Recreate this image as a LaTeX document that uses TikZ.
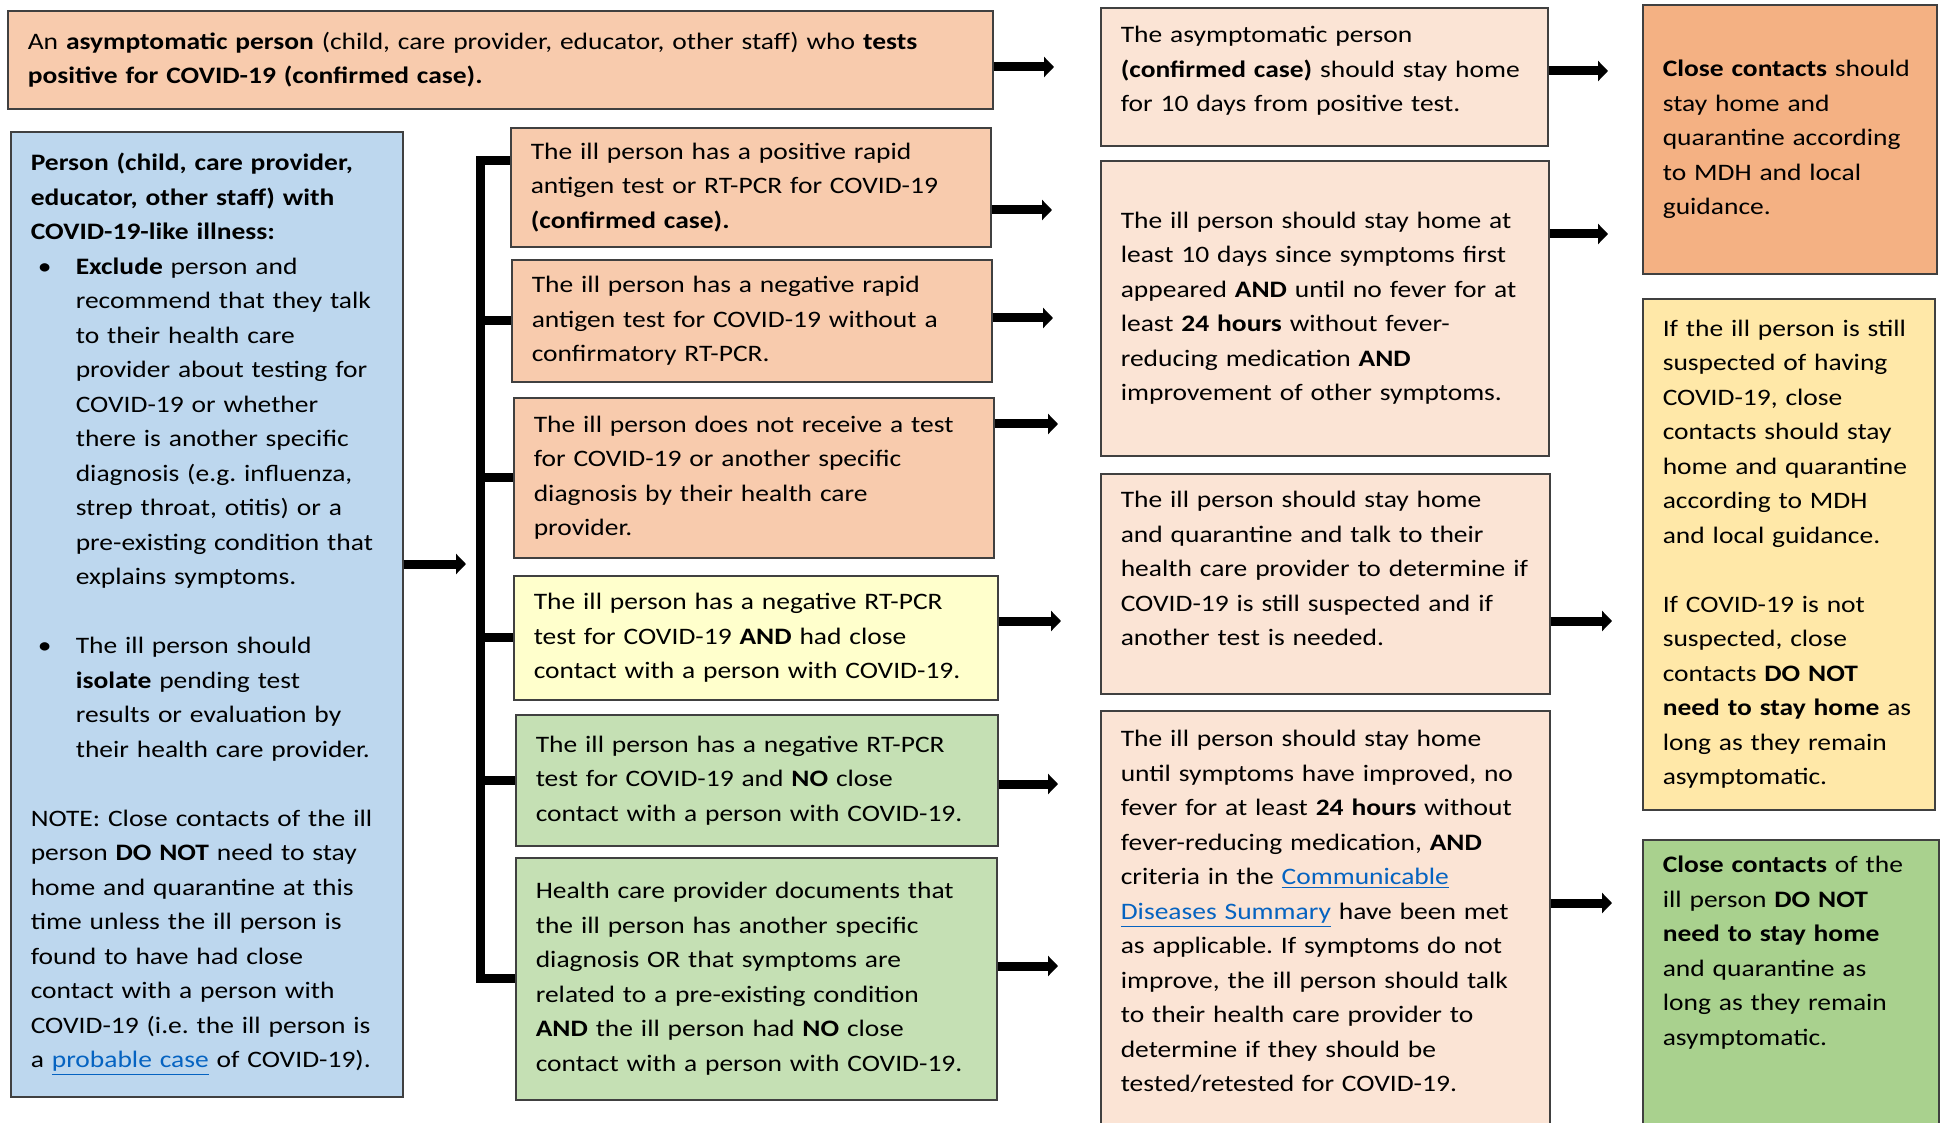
\documentclass[tikz,border=0pt]{standalone}
\usepackage{fontspec}
\setmainfont{Carlito}[FakeStretch=1.165]
\usetikzlibrary{arrows.meta}

\definecolor{peach}{HTML}{F8CBAD}
\definecolor{lightpeach}{HTML}{FBE4D5}
\definecolor{darkpeach}{HTML}{F4B183}
\definecolor{skyblue}{HTML}{BDD7EE}
\definecolor{paleyellow}{HTML}{FFFFCC}
\definecolor{goldyellow}{HTML}{FFE8A8}
\definecolor{palegreen}{HTML}{C5E0B4}
\definecolor{midgreen}{HTML}{A9D18E}
\definecolor{linkblue}{HTML}{0563C1}

\newcommand{\lnk}[1]{{\color{linkblue}\underline{#1}}}
\newcommand{\bulpt}{\hspace*{3.5pt}\makebox[19pt][l]{\textbullet}}
\newcommand{\indpt}{\hspace*{22.5pt}}
\frenchspacing

\begin{document}
\begin{tikzpicture}[x=0.5pt,y=-0.5pt]

\def\lw{4.5pt}
\def\blank{17.25pt}

\tikzset{cbox/.style={draw=black!75, line width=0.8pt, fill=#1, anchor=north west, inner xsep=10pt, inner ysep=0pt, align=left, font=\fontsize{11.8}{17.25}\selectfont}}
\tikzset{fatarrow/.style={line width=\lw, -{Triangle[length=5pt,width=10pt]}}}
\tikzset{brk/.style={line width=\lw}}

\useasboundingbox (0,0) rectangle (1940,1123);

% asymptomatic row
\node[cbox=peach, text width=472.5pt, minimum height=49pt] (asym) at (7,10) {An \textbf{asymptomatic person} (child, care provider, educator, other staff) who \textbf{tests}\\\textbf{positive for COVID-19 (confirmed case).}};
\node[cbox=lightpeach, text width=203.5pt, text height=17.5pt, text depth=51.5pt] (asymhome) at (1100,7) {The asymptomatic person\\\textbf{(confirmed case)} should stay home\\for 10 days from positive test.};
\node[cbox=darkpeach, text width=127pt, minimum height=134.5pt] (ccstay) at (1642,4) {\textbf{Close contacts} should\\stay home and\\quarantine according\\to MDH and local\\guidance.};

% ill person
\node[cbox=skyblue, text width=176pt, minimum height=482.5pt] (ill) at (10,131) {\textbf{Person (child, care provider,}\\\textbf{educator, other staff) with}\\\textbf{COVID-19-like illness:}\\
\bulpt\textbf{Exclude} person and\\\indpt recommend that they talk\\\indpt to their health care\\\indpt provider about testing for\\\indpt COVID-19 or whether\\\indpt there is another specific\\\indpt diagnosis (e.g. influenza,\\\indpt strep throat, otitis) or a\\\indpt pre-existing condition that\\\indpt explains symptoms.\\[\blank]
\bulpt The ill person should\\\indpt\textbf{isolate} pending test\\\indpt results or evaluation by\\\indpt their health care provider.\\[\blank]
NOTE: Close contacts of the ill\\person \textbf{DO NOT} need to stay\\home and quarantine at this\\time unless the ill person is\\found to have had close\\contact with a person with\\COVID-19 (i.e. the ill person is\\a \lnk{probable case} of COVID-19).};

% test results
\node[cbox=peach, text width=220pt, minimum height=59.5pt] (res1) at (510,127) {The ill person has a positive rapid\\antigen test or RT-PCR for COVID-19\\\textbf{(confirmed case).}};
\node[cbox=peach, text width=220pt, minimum height=61pt] (res2) at (511,259) {The ill person has a negative rapid\\antigen test for COVID-19 without a\\confirmatory RT-PCR.};
\node[cbox=peach, text width=220pt, minimum height=80pt] (res3) at (513,397) {The ill person does not receive a test\\for COVID-19 or another specific\\diagnosis by their health care\\provider.};
\node[cbox=paleyellow, text width=222pt, minimum height=62pt] (res4) at (513,575) {The ill person has a negative RT-PCR\\test for COVID-19 \textbf{AND} had close\\contact with a person with COVID-19.};
\node[cbox=palegreen, text width=221pt, minimum height=65.5pt] (res5) at (515,714) {The ill person has a negative RT-PCR\\test for COVID-19 and \textbf{NO} close\\contact with a person with COVID-19.};
\node[cbox=palegreen, text width=220.5pt, minimum height=121pt] (res6) at (515,857) {Health care provider documents that\\the ill person has another specific\\diagnosis OR that symptoms are\\related to a pre-existing condition\\\textbf{AND} the ill person had \textbf{NO} close\\contact with a person with COVID-19.};

% what the ill person does
\node[cbox=lightpeach, text width=204pt, minimum height=147.5pt] (home10) at (1100,160) {The ill person should stay home at\\least 10 days since symptoms first\\appeared \textbf{AND} until no fever for at\\least \textbf{24 hours} without fever-\\reducing medication \textbf{AND}\\improvement of other symptoms.};
\node[cbox=lightpeach, text width=204.5pt, text height=17pt, text depth=93pt] (homeq) at (1100,473) {The ill person should stay home\\and quarantine and talk to their\\health care provider to determine if\\COVID-19 is still suspected and if\\another test is needed.};
\node[cbox=lightpeach, text width=204.5pt, text height=18pt, text depth=250pt] (homeimp) at (1100,710) {The ill person should stay home\\until symptoms have improved, no\\fever for at least \textbf{24 hours} without\\fever-reducing medication, \textbf{AND}\\criteria in the \lnk{Communicable}\\\lnk{Diseases Summary} have been met\\as applicable. If symptoms do not\\improve, the ill person should talk\\to their health care provider to\\determine if they should be\\tested/retested for COVID-19.};

% close contacts
\node[cbox=goldyellow, text width=126pt, minimum height=255.5pt] (ccmaybe) at (1642,298) {If the ill person is still\\suspected of having\\COVID-19, close\\contacts should stay\\home and quarantine\\according to MDH\\and local guidance.\\[\blank]If COVID-19 is not\\suspected, close\\contacts \textbf{DO NOT}\\\textbf{need to stay home} as\\long as they remain\\asymptomatic.};
\node[cbox=midgreen, text width=128pt, text height=16.5pt, text depth=220pt] (ccfree) at (1642,839) {\textbf{Close contacts} of the\\ill person \textbf{DO NOT}\\\textbf{need to stay home}\\and quarantine as\\long as they remain\\asymptomatic.};

% bracket
\coordinate (btop) at (480,161);
\coordinate (bbot) at (btop |- res6.west);
\draw[brk] (res1.west |- btop) -- (btop) -- (bbot) -- (res6.west);
\foreach \r in {res2,res3,res4,res5}
  \draw[brk] (btop |- \r.west) -- (\r.west);

% arrows
\coordinate (eill) at (466,564);
\draw[fatarrow] (ill.east |- eill) -- (eill);

\coordinate (easym) at (1054,67);
\coordinate (e1) at (1052,210);
\coordinate (e2) at (1053,318);
\coordinate (e3) at (1058,424);
\coordinate (e4) at (1061,621);
\coordinate (e5) at (1058,784);
\coordinate (e6) at (1058,966);
\draw[fatarrow] (asym.east |- easym) -- (easym);
\draw[fatarrow] (res1.east |- e1) -- (e1);
\draw[fatarrow] (res2.east |- e2) -- (e2);
\draw[fatarrow] (res3.east |- e3) -- (e3);
\draw[fatarrow] (res4.east |- e4) -- (e4);
\draw[fatarrow] (res5.east |- e5) -- (e5);
\draw[fatarrow] (res6.east |- e6) -- (e6);

\coordinate (eahome) at (1608,71);
\coordinate (e10) at (1608,234);
\coordinate (eq) at (1612,621);
\coordinate (eimp) at (1612,903);
\draw[fatarrow] (asymhome.east |- eahome) -- (eahome);
\draw[fatarrow] (home10.east |- e10) -- (e10);
\draw[fatarrow] (homeq.east |- eq) -- (eq);
\draw[fatarrow] (homeimp.east |- eimp) -- (eimp);

\end{tikzpicture}
\end{document}
